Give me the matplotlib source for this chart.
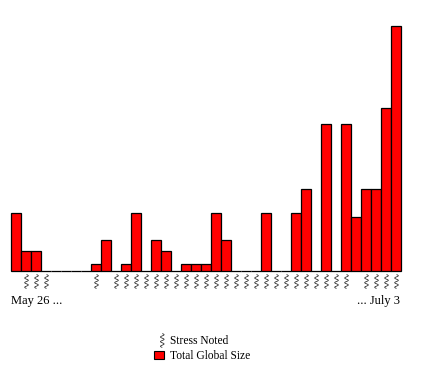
import numpy as np
import matplotlib
matplotlib.use("Agg")
import matplotlib.pyplot as plt
from matplotlib.lines import Line2D
from matplotlib.patches import Patch
from matplotlib.path import Path

# one bar per day, May 26 to July 3
sizes = [58, 20, 20, 0, 0, 0, 0, 0, 7, 31, 0, 7, 58, 0, 31, 20, 0, 7, 7, 7,
         58, 31, 0, 0, 0, 58, 0, 0, 58, 82, 0, 147, 0, 147, 54, 82, 82, 163, 245]
stress_days = [1, 2, 3, 8, 10, 11, 12, 13, 14, 15, 16, 17, 18, 19, 20, 21, 22,
               23, 24, 25, 26, 27, 28, 29, 30, 31, 32, 33, 35, 36, 37, 38]
start_label = "May 26 ..."
end_label = "... July 3"

W, H = 422, 375
plt.rcParams['font.family'] = ['Liberation Serif', 'DejaVu Serif']

fig = plt.figure(figsize=(W / 100, H / 100), dpi=100)
ax = fig.add_axes([11 / W, 1 - 271 / H, 390 / W, 245 / H])
ax.axis("off")

days = np.arange(len(sizes))
ax.bar(days, sizes, width=1.0, color="#ff0000", edgecolor="black", linewidth=0.9,
       clip_on=False)
ax.set_xlim(-0.5, len(sizes) - 0.5)
ax.set_ylim(0, 245)

# squiggle marker, vertical wavy stroke
t = np.linspace(-0.5, 0.5, 80)
wave = 0.13 * np.sin(t * 2 * np.pi * 3)
squiggle = Path(np.column_stack([wave, t]))
legend_squiggle = Path(np.column_stack([wave + 0.2, t]))

# stress row sits under the baseline
stress_y = np.full(len(stress_days), -9.5)
ax.plot(stress_days, stress_y, ls="none", marker=squiggle, ms=10, mfc="none",
        mec="#222222", mew=0.55, clip_on=False)

fig.text(11 / W, 1 - 301 / H, start_label, fontsize=9, ha="left", va="center")
fig.text(400 / W, 1 - 301 / H, end_label, fontsize=9, ha="right", va="center")

handles = [
    Line2D([], [], ls="none", marker=legend_squiggle, ms=10, mfc="none", mec="#222222", mew=0.55),
    Patch(facecolor="#ff0000", edgecolor="black", linewidth=0.8),
]
fig.legend(handles, ["Stress Noted", "Total Global Size"], frameon=False,
           fontsize=8.3, loc="center", bbox_to_anchor=(202 / W, 1 - 348.5 / H),
           handlelength=0.85, handleheight=0.7, handletextpad=0.55,
           labelspacing=0.2, borderpad=0, borderaxespad=0)

fig.savefig("out.png", dpi=100)
